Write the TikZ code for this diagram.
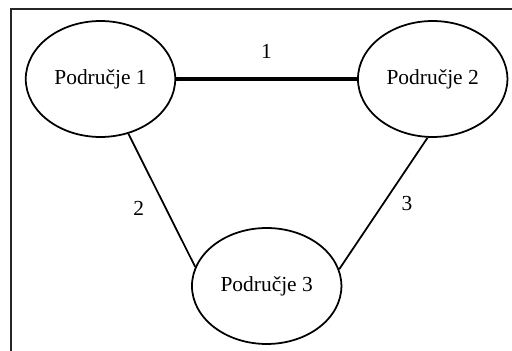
\documentclass[tikz,border=0pt]{standalone}
\usepackage{fontspec}
\setmainfont{Liberation Serif}
\usetikzlibrary{shapes.geometric}
\begin{document}
\begin{tikzpicture}[x=0.02cm, y=-0.02cm,
    podrucje/.style={ellipse, draw, line width=1pt, minimum width=2.99cm, minimum height=2.32cm, inner sep=0pt, font=\fontsize{12.2}{14}\selectfont},
    veza/.style={line width=1pt},
    oznaka/.style={font=\fontsize{12.2}{14}\selectfont}]
    \useasboundingbox (0, 0) rectangle (512, 351);
    \draw[line width=1pt, black!85] (512, 9) -- (11, 9) -- (11, 351);

    \node[podrucje] (pod1) at (100.5, 79) {Područje 1};
    \node[podrucje] (pod2) at (432.7, 79) {Područje 2};
    \node[podrucje] (pod3) at (266.7, 286) {Područje 3};

    \draw[veza, line width=2.3pt] (pod1.east) -- (pod2.west) node[oznaka, midway, above=0.26cm] {1};
    \draw[veza] (pod1.-63) -- (pod3.165) node[oznaka, pos=0.56, left=0.3cm] {2};
    \draw[veza] (pod2.-95) -- (pod3.13) node[oznaka, midway, right=0.23cm] {3};
\end{tikzpicture}
\end{document}
